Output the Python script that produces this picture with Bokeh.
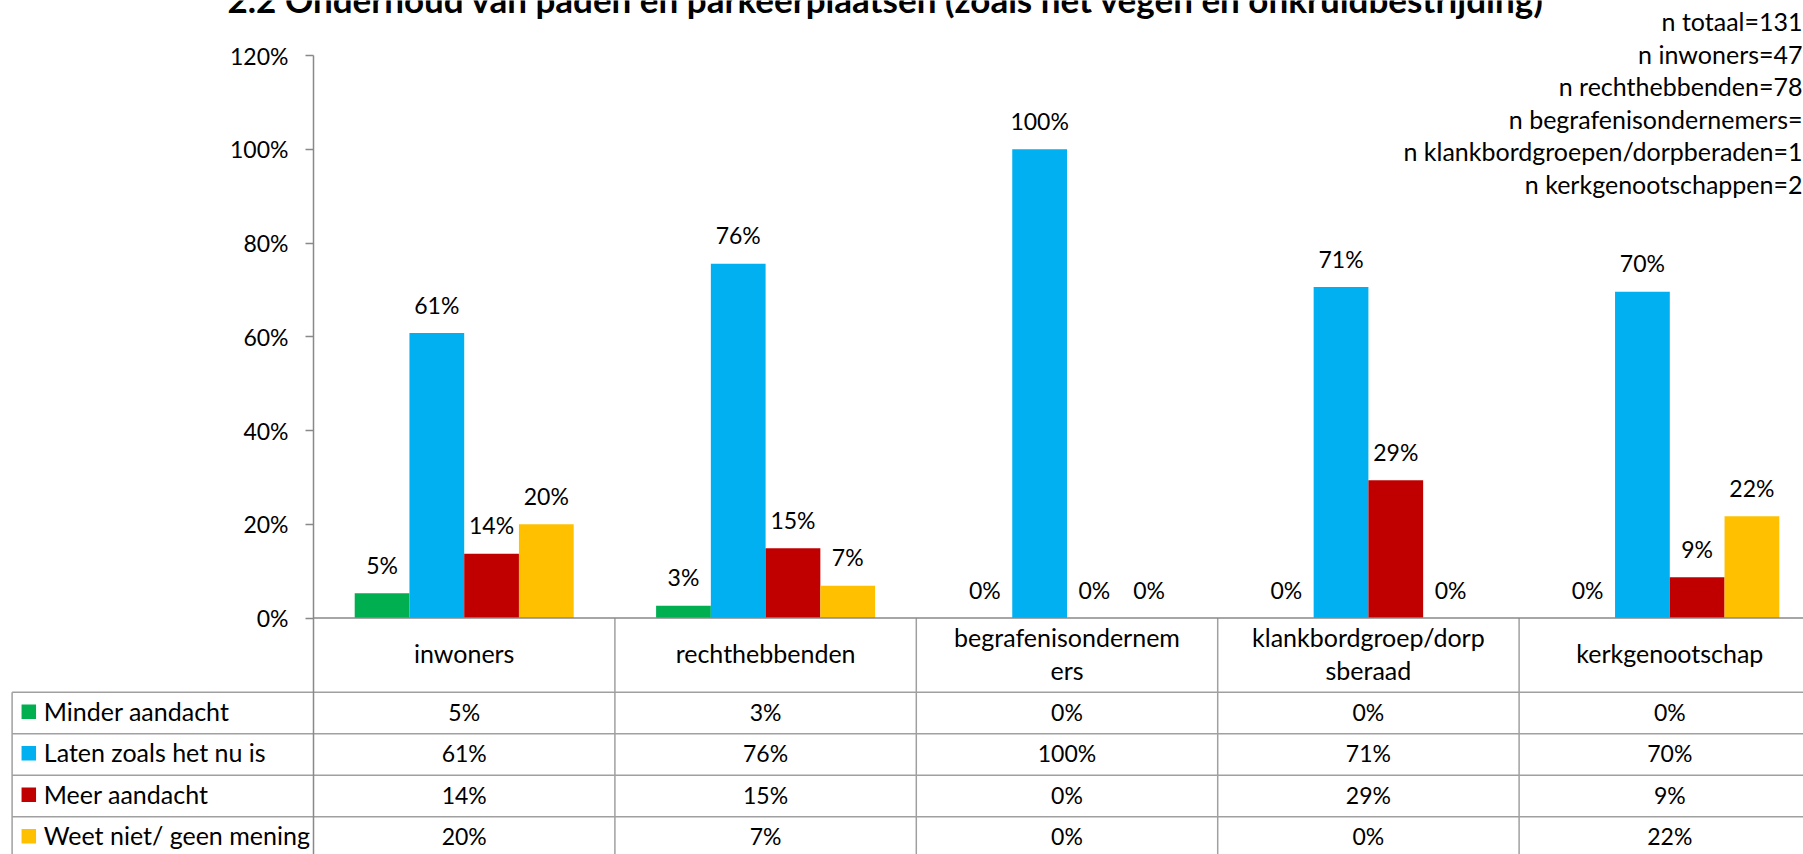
from bokeh.plotting import figure
from bokeh.models import ColumnDataSource, Range1d, FixedTicker, PrintfTickFormatter, Span, LabelSet
from bokeh.transform import dodge
from bokeh.core.properties import value
from bokeh.embed import file_html
from bokeh.resources import INLINE

# ---------------- data ----------------
title_text = "2.2 Onderhoud van paden en parkeerplaatsen (zoals het vegen en onkruidbestrijding)"
categories = ["inwoners", "rechthebbenden", "begrafenisondernem\ners",
              "klankbordgroep/dorp\nsberaad", "kerkgenootschap"]
series = ["Minder aandacht", "Laten zoals het nu is", "Meer aandacht", "Weet niet/ geen mening"]
minder = [5.3, 2.6, 0.0, 0.0, 0.0]
laten = [60.8, 75.6, 100.0, 70.6, 69.6]
meer = [13.7, 14.9, 0.0, 29.4, 8.7]
weet = [20.0, 6.9, 0.0, 0.0, 21.7]
colors = ["#00B050", "#00B0F0", "#C00000", "#FFC000"]
y_ticks = [0, 20, 40, 60, 80, 100, 120]
n_lines = ["n totaal=131", "n inwoners=47", "n rechthebbenden=78",
           "n begrafenisondernemers=", "n klankbordgroepen/dorpberaden=1",
           "n kerkgenootschappen=2"]

values = [minder, laten, meer, weet]

# ---------------- layout constants (pixels) ----------------
W, H = 1803, 854
LEFT, TOP = 313, 55
COL = 301.4
ZERO_PX = 617.5
PX_PER = (ZERO_PX - TOP) / 120.0
ROW0, RH = 691.7, 41.5
BW = 54.75 / COL
FONT = "Lato"
FS = "25px"        # words
FS_NUM = "23px"    # percentages
AXIS_GRAY = "#898989"
GRID_GRAY = "#a0a0a0"
TXT = "#000000"


def ax(px):
    return -0.5 + (px - LEFT) / COL


def ay(py):
    return (ZERO_PX - py) / PX_PER


def pct(v):
    return f"{v:.0f}%"


def labels(fig, src, x="x", y="y", text="t", align="center", size=FS, style="normal"):
    fig.add_layout(LabelSet(x=x, y=y, text=text, source=src, text_align=align,
                            text_baseline="alphabetic", text_font=value(FONT),
                            text_font_style=style, text_font_size=size, text_color=TXT))


idx = list(range(len(categories)))
nrows = len(series)

# ================= background figure: title, counts, table =================
bg = figure(width=W, height=H, output_backend="svg", toolbar_location=None, title=None,
            x_range=Range1d(ax(0), ax(W)), y_range=Range1d(ay(H), ay(0)),
            x_axis_location=None, y_axis_location=None,
            min_border_left=0, min_border_right=0, min_border_top=0, min_border_bottom=0)
bg.grid.visible = False
bg.outline_line_color = None
bg.background_fill_color = "white"
bg.border_fill_color = "white"

# title (its upper part runs off the top, as in the original)
labels(bg, ColumnDataSource(dict(x=[ax(885.5)], y=[ay(12.5)], t=[title_text])),
       size="35px", style="bold")

# respondent counts
labels(bg, ColumnDataSource(dict(x=[ax(1802)] * len(n_lines),
                                 y=[ay(30.7 + 32.5 * k) for k in range(len(n_lines))],
                                 t=n_lines)), align="right")

# category header labels (one or two lines)
hx, hy, ht = [], [], []
for i, cat in enumerate(categories):
    lines = cat.split("\n")
    n = len(lines)
    for k, ln in enumerate(lines):
        hx.append(i)
        hy.append(ay(662.5 + (k - (n - 1) / 2.0) * 33.0))
        ht.append(ln)
labels(bg, ColumnDataSource(dict(x=hx, y=hy, t=ht)))

# table grid
hys = [ay(ROW0 + RH * k) for k in range(nrows + 1)]
bg.segment(x0=[-1.5] * len(hys), y0=hys, x1=[ax(W) + 1] * len(hys), y1=hys,
           line_color=GRID_GRAY, line_width=1.5)
vxs = [i + 0.5 for i in idx]
bg.segment(x0=vxs, y0=[0] * len(vxs), x1=vxs, y1=[ay(H) - 1] * len(vxs),
           line_color=GRID_GRAY, line_width=1.5)
bg.segment(x0=[-1.5], y0=[ay(ROW0)], x1=[-1.5], y1=[ay(H) - 1],
           line_color=GRID_GRAY, line_width=1.5)

# legend column of the table
bg.scatter(x=[ax(28.3)] * nrows, y=[ay(711.2 + RH * k) for k in range(nrows)],
           marker="square", size=14.5, fill_color=colors, line_color=None)
labels(bg, ColumnDataSource(dict(x=[ax(43.3)] * nrows,
                                 y=[ay(720 + RH * k) for k in range(nrows)],
                                 t=series)), align="left")

# value cells
tx, ty, tt = [], [], []
for k, vals in enumerate(values):
    for i, v in enumerate(vals):
        tx.append(i)
        ty.append(ay(720 + RH * k))
        tt.append(pct(v))
labels(bg, ColumnDataSource(dict(x=tx, y=ty, t=tt)), size=FS_NUM)

# ================= foreground figure: axis, bars, data labels =================
fg = figure(width=W, height=H, output_backend="svg", toolbar_location=None, title=None,
            x_range=Range1d(-0.5, ax(W)), y_range=Range1d(ay(H), 120),
            x_axis_location=None, y_axis_location="left",
            min_border_left=LEFT, min_border_right=0, min_border_top=TOP, min_border_bottom=0,
            styles={"position": "absolute", "left": "0px", "top": "0px"})
fg.grid.visible = False
fg.outline_line_color = None
fg.background_fill_alpha = 0
fg.border_fill_alpha = 0

yax = fg.yaxis[0]
yax.ticker = FixedTicker(ticks=y_ticks, minor_ticks=[])
yax.formatter = PrintfTickFormatter(format="%d%%")
yax.major_label_text_font = FONT
yax.major_label_text_font_size = FS_NUM
yax.major_label_text_color = TXT
yax.axis_line_color = AXIS_GRAY
yax.axis_line_width = 1.5
yax.major_tick_line_color = AXIS_GRAY
yax.major_tick_line_width = 1.5
yax.major_tick_out = 8
yax.major_tick_in = 0
yax.minor_tick_out = 0
yax.minor_tick_in = 0
yax.major_label_standoff = 17

for j, (name, vals, col) in enumerate(zip(series, values, colors)):
    src = ColumnDataSource(dict(x=idx, top=vals, ly=[v + 19.5 / PX_PER for v in vals],
                                label=[pct(v) for v in vals]))
    off = (j - 1.5) * BW
    fg.vbar(x=dodge("x", off, range=fg.x_range), top="top", bottom=0, width=BW,
            fill_color=col, line_color=None, source=src)
    labels(fg, src, x=dodge("x", off, range=fg.x_range), y="ly", text="label", size=FS_NUM)

fg.add_layout(Span(location=0, dimension="width", line_color=AXIS_GRAY, line_width=1.5))

open("out.html", "w").write(file_html([bg, fg], INLINE))
